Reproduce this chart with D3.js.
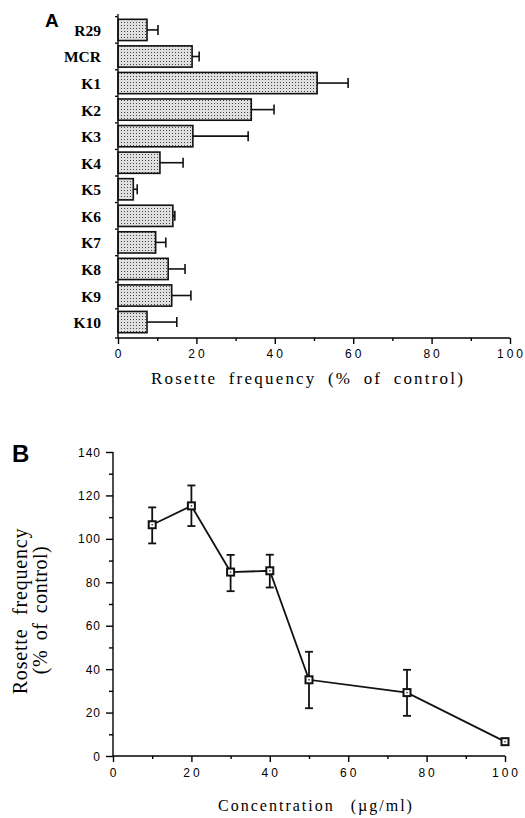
<!DOCTYPE html>
<html>
<head>
<meta charset="utf-8">
<script src="https://cdn.jsdelivr.net/npm/d3@7"></script>
<style>
  body { margin: 0; background: #fff; }
  svg { display: block; }
  .serif { font-family: "Liberation Serif", "Times New Roman", serif; }
  .sans { font-family: "Liberation Sans", Arial, sans-serif; }
</style>
</head>
<body>
<div id="chart"></div>
<script>
// Panel A: rosette frequency per antibody
const clones = ["R29", "MCR", "K1", "K2", "K3", "K4", "K5", "K6", "K7", "K8", "K9", "K10"];
const rosette = [7.4, 18.9, 50.8, 34, 19.1, 10.7, 3.9, 14, 9.6, 12.8, 13.7, 7.4];
const rosetteErr = [2.8, 1.8, 7.9, 5.8, 14.1, 5.9, 1.0, 0.5, 2.6, 4.3, 4.9, 7.6];
const xTicksA = [0, 20, 40, 60, 80, 100];

// Panel B: dose response
const conc = [10, 20, 30, 40, 50, 75, 100];
const freq = [106.5, 115.2, 84.7, 85.3, 35.1, 29.2, 6.6];
const freqLo = [97.9, 105.9, 75.9, 77.6, 22.0, 18.5, 6.6];
const freqHi = [114.5, 124.6, 92.6, 92.7, 48.0, 39.7, 6.6];
const xTicksB = [0, 20, 40, 60, 80, 100];
const yTicksB = [0, 20, 40, 60, 80, 100, 120, 140];

const W = 525, H = 818;
const svg = d3.select("#chart").append("svg")
  .attr("width", W)
  .attr("height", H);

// stipple fill for the bars
const pat = svg.append("defs").append("pattern")
  .attr("id", "dots")
  .attr("width", 3).attr("height", 3)
  .attr("patternUnits", "userSpaceOnUse");
pat.append("rect").attr("width", 3).attr("height", 3).attr("fill", "#e0e0e0");
pat.append("rect").attr("x", 1).attr("y", 1).attr("width", 1).attr("height", 1).attr("fill", "#444");

// ---------- panel A ----------
const xA = d3.scaleLinear().domain([0, 100]).range([118, 510]);
const yA = d3.scaleBand().domain(clones).range([14, 338]).padding(0.2);

const gA = svg.append("g");

gA.append("text")
  .attr("class", "sans")
  .attr("x", 45).attr("y", 27)
  .attr("font-size", 19).attr("font-weight", "bold")
  .text("A");

// bars
gA.selectAll("rect.bar")
  .data(clones)
  .enter().append("rect")
  .attr("class", "bar")
  .attr("x", xA(0))
  .attr("y", d => yA(d))
  .attr("width", (d, i) => xA(rosette[i]) - xA(0))
  .attr("height", yA.bandwidth())
  .attr("fill", "url(#dots)")
  .attr("stroke", "#111")
  .attr("stroke-width", 1.6);

// error bars
const errA = gA.selectAll("g.err")
  .data(clones)
  .enter().append("g")
  .attr("class", "err")
  .attr("stroke", "#111")
  .attr("stroke-width", 1.6);
errA.append("line")
  .attr("x1", (d, i) => xA(rosette[i]))
  .attr("x2", (d, i) => xA(rosette[i] + rosetteErr[i]))
  .attr("y1", d => yA(d) + yA.bandwidth() / 2)
  .attr("y2", d => yA(d) + yA.bandwidth() / 2);
errA.append("line")
  .attr("x1", (d, i) => xA(rosette[i] + rosetteErr[i]))
  .attr("x2", (d, i) => xA(rosette[i] + rosetteErr[i]))
  .attr("y1", d => yA(d) + yA.bandwidth() / 2 - 5)
  .attr("y2", d => yA(d) + yA.bandwidth() / 2 + 5);

// y axis: line, boundary ticks and labels
gA.append("line")
  .attr("x1", xA(0)).attr("x2", xA(0))
  .attr("y1", 14).attr("y2", 338)
  .attr("stroke", "#111").attr("stroke-width", 1.4);
const bounds = clones.map(c => yA(c) - yA.step() * yA.paddingInner() / 2).concat([338]);
gA.selectAll("line.ytick")
  .data(bounds)
  .enter().append("line")
  .attr("x1", xA(0) - 3).attr("x2", xA(0))
  .attr("y1", d => d).attr("y2", d => d)
  .attr("stroke", "#111").attr("stroke-width", 1.4);
gA.selectAll("text.ylab")
  .data(clones)
  .enter().append("text")
  .attr("class", "serif")
  .attr("x", 101)
  .attr("y", d => yA(d) + yA.bandwidth() / 2 + 6)
  .attr("text-anchor", "end")
  .attr("font-size", 15.5).attr("font-weight", "bold")
  .text(d => d);

// x axis
const axA = gA.append("g")
  .attr("transform", "translate(0,338)")
  .call(d3.axisBottom(xA).tickValues(d3.range(0, 101, 10)).tickSize(4).tickFormat(""));
axA.select(".domain").attr("stroke-width", 1.4).attr("d", `M${xA(0)},0H${xA(100)}`);
axA.selectAll(".tick line")
  .attr("stroke-width", 1.4)
  .attr("y2", d => d % 20 === 0 ? 6 : 3);
gA.selectAll("text.xlab")
  .data(xTicksA)
  .enter().append("text")
  .attr("class", "sans")
  .attr("x", d => xA(d) + 1.5)
  .attr("y", 358)
  .attr("text-anchor", "middle")
  .attr("font-size", 12)
  .attr("letter-spacing", 3)
  .text(d => d);
gA.append("text")
  .attr("class", "serif")
  .attr("x", 308).attr("y", 384)
  .attr("text-anchor", "middle")
  .attr("font-size", 17)
  .attr("letter-spacing", 2.2)
  .attr("word-spacing", 5)
  .text("Rosette frequency (% of control)");

// ---------- panel B ----------
const xB = d3.scaleLinear().domain([0, 100]).range([113, 505]);
const yB = d3.scaleLinear().domain([0, 140]).range([756, 452]);

const gB = svg.append("g");

gB.append("text")
  .attr("class", "sans")
  .attr("x", 12).attr("y", 462)
  .attr("font-size", 24).attr("font-weight", "bold")
  .text("B");

const ayB = gB.append("g")
  .attr("transform", `translate(${xB(0)},0)`)
  .call(d3.axisLeft(yB).tickValues(d3.range(0, 141, 10)).tickSize(4).tickFormat(""));
ayB.select(".domain").attr("stroke-width", 1.4).attr("d", `M0,${yB(0)}V${yB(140)}`);
ayB.selectAll(".tick line")
  .attr("stroke-width", 1.4)
  .attr("x2", d => d % 20 === 0 ? -7 : -4);
gB.selectAll("text.ylab")
  .data(yTicksB)
  .enter().append("text")
  .attr("class", "sans")
  .attr("x", 101)
  .attr("y", d => yB(d) + 4.5)
  .attr("text-anchor", "end")
  .attr("font-size", 12)
  .attr("letter-spacing", 1)
  .text(d => d);

const axB = gB.append("g")
  .attr("transform", `translate(0,${yB(0)})`)
  .call(d3.axisBottom(xB).tickValues(d3.range(0, 101, 10)).tickSize(4).tickFormat(""));
axB.select(".domain").attr("stroke-width", 1.4).attr("d", `M${xB(0)},0H${xB(100)}`);
axB.selectAll(".tick line")
  .attr("stroke-width", 1.4)
  .attr("y2", d => d % 20 === 0 ? 6 : 3);
gB.selectAll("text.xlab")
  .data(xTicksB)
  .enter().append("text")
  .attr("class", "sans")
  .attr("x", d => xB(d) + 1.5)
  .attr("y", yB(0) + 21)
  .attr("text-anchor", "middle")
  .attr("font-size", 12)
  .attr("letter-spacing", 3)
  .text(d => d);

gB.append("text")
  .attr("class", "serif")
  .attr("x", 316).attr("y", 811)
  .attr("text-anchor", "middle")
  .attr("font-size", 16)
  .attr("letter-spacing", 2)
  .attr("word-spacing", 10)
  .text("Concentration (µg/ml)");

gB.append("text")
  .attr("class", "serif")
  .attr("transform", "translate(27,611) rotate(-90)")
  .attr("text-anchor", "middle")
  .attr("font-size", 20)
  .attr("letter-spacing", 0.8)
  .attr("word-spacing", 8)
  .text("Rosette frequency");
gB.append("text")
  .attr("class", "serif")
  .attr("transform", "translate(47,610) rotate(-90)")
  .attr("text-anchor", "middle")
  .attr("font-size", 20)
  .attr("letter-spacing", 0.5)
  .attr("word-spacing", 4)
  .text("(% of control)");

// error bars
const errB = gB.selectAll("g.err")
  .data(conc)
  .enter().append("g")
  .attr("class", "err")
  .attr("stroke", "#111")
  .attr("stroke-width", 1.8);
errB.append("line")
  .attr("x1", d => xB(d)).attr("x2", d => xB(d))
  .attr("y1", (d, i) => yB(freqLo[i])).attr("y2", (d, i) => yB(freqHi[i]));
errB.append("line")
  .attr("x1", d => xB(d) - 4).attr("x2", d => xB(d) + 4)
  .attr("y1", (d, i) => yB(freqLo[i])).attr("y2", (d, i) => yB(freqLo[i]));
errB.append("line")
  .attr("x1", d => xB(d) - 4).attr("x2", d => xB(d) + 4)
  .attr("y1", (d, i) => yB(freqHi[i])).attr("y2", (d, i) => yB(freqHi[i]));

// line
const line = d3.line()
  .x(d => xB(d[0]))
  .y(d => yB(d[1]));
gB.append("path")
  .datum(conc.map((c, i) => [c, freq[i]]))
  .attr("d", line)
  .attr("fill", "none")
  .attr("stroke", "#111")
  .attr("stroke-width", 1.8);

// square markers
gB.selectAll("rect.pt")
  .data(conc)
  .enter().append("rect")
  .attr("class", "pt")
  .attr("x", d => xB(d) - 3.5)
  .attr("y", (d, i) => yB(freq[i]) - 3.5)
  .attr("width", 7).attr("height", 7)
  .attr("fill", "#fff")
  .attr("stroke", "#111")
  .attr("stroke-width", 2);
gB.selectAll("rect.dot")
  .data(conc)
  .enter().append("rect")
  .attr("class", "dot")
  .attr("x", d => xB(d) - 0.75)
  .attr("y", (d, i) => yB(freq[i]) - 0.75)
  .attr("width", 1.5).attr("height", 1.5)
  .attr("fill", "#444");
</script>
</body>
</html>
